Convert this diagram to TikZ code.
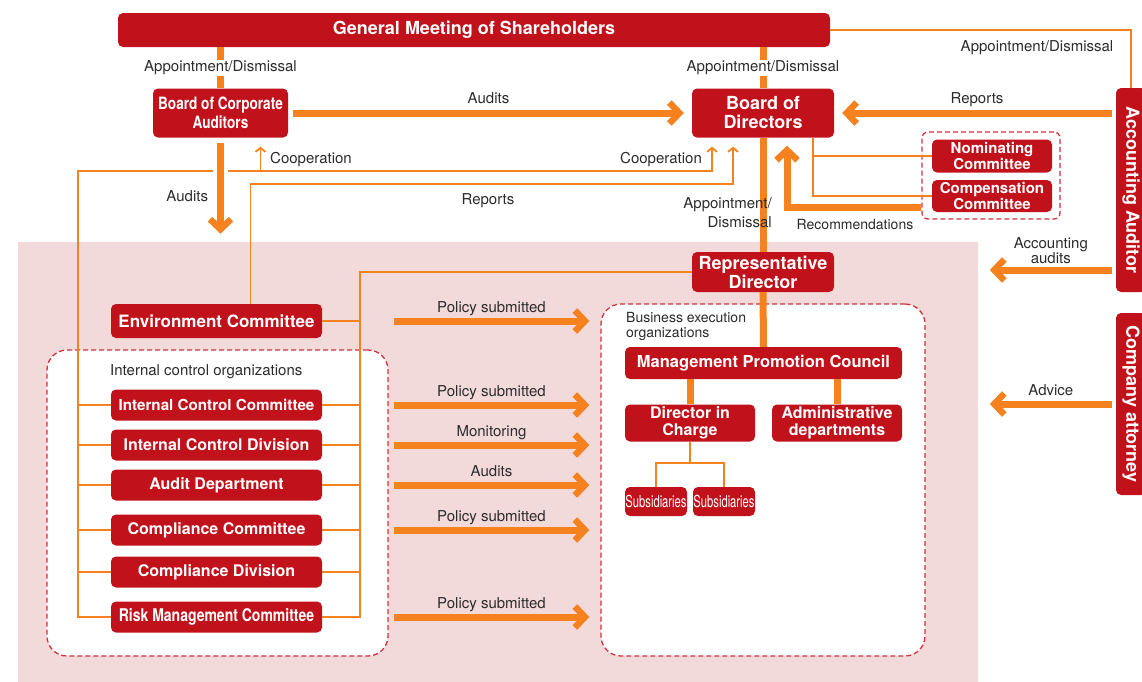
\documentclass[tikz,border=0pt]{standalone}
\usepackage{fontspec}
\setmainfont{TeX Gyre Heros}
\newfontfamily\narrowfont[FakeStretch=0.8]{TeX Gyre Heros}
\newfontfamily\slimfont[FakeStretch=0.68]{TeX Gyre Heros}
\usetikzlibrary{arrows.meta,calc}
\definecolor{boxred}{HTML}{C1121C}
\definecolor{flow}{HTML}{F5821F}
\definecolor{panel}{HTML}{F2DADB}
\definecolor{dashred}{HTML}{D6303C}
\definecolor{inkgray}{HTML}{2B2B2B}
\tikzset{
  orgbox/.style      = {rectangle, rounded corners=5pt, fill=boxred, text=white,
                        align=center, inner sep=0pt,
                        font=\bfseries\fontsize{16}{17}\selectfont},
  headbox/.style     = {orgbox, font=\bfseries\fontsize{18}{19}\selectfont},
  sidebox/.style     = {orgbox, rotate=-90, minimum height=30pt,
                        font=\bfseries\fontsize{18}{19}\selectfont},
  fatline/.style     = {draw=flow, line width=7pt},
  fatarrow/.style    = {fatline, -{Straight Barb[length=10pt,width=21pt,line width=6.5pt]}},
  thinline/.style    = {draw=flow, line width=1.8pt},
  thinarrow/.style   = {thinline, -{Straight Barb[length=4pt,width=10pt]}},
  lbl/.style         = {text=inkgray, inner sep=1pt,
                        font=\fontsize{15}{15}\selectfont},
  arrowlbl/.style    = {lbl, text height=11pt, text depth=3pt},
  groupframe/.style  = {draw=dashred, line width=1.3pt, dash pattern=on 5pt off 3pt,
                        rounded corners=20pt, fill=white},
}

\begin{document}
\begin{tikzpicture}[x=1pt, y=-1pt]
  \useasboundingbox (0,0) rectangle (1142,681);

  % ---- executive side shading and the two dashed groupings ----------------
  \fill[panel] (18,242) rectangle (978,690);
  \node[groupframe, minimum width=341pt, minimum height=306pt] (icframe) at (217.5,503) {};
  \node[groupframe, minimum width=324pt, minimum height=352pt] (bizframe) at (763,480) {};
  \node[groupframe, rounded corners=6pt, fill=none,
        minimum width=138pt, minimum height=87pt] (cmtframe) at (991,175.5) {};

  % ---- governance boxes ---------------------------------------------------
  \node[headbox, minimum width=712pt, minimum height=34pt] (gms) at (474,30) {General Meeting of Shareholders};
  \node[orgbox, minimum width=135pt, minimum height=49pt,
        font=\narrowfont\bfseries\fontsize{17}{19}\selectfont] (bca) at (220.5,113) {Board of Corporate\\Auditors};
  \node[headbox, minimum width=142pt, minimum height=49pt] (bod) at (763,113) {Board of\\Directors};
  \node[headbox, minimum width=142pt, minimum height=40pt] (rd) at (763,272) {Representative\\Director};
  \node[orgbox, minimum width=120pt, minimum height=33pt,
        font=\bfseries\fontsize{15}{13}\selectfont] (nom) at (992,156) {Nominating\\Committee};
  \node[orgbox, minimum width=120pt, minimum height=32pt,
        font=\bfseries\fontsize{15}{13}\selectfont] (comp) at (992,196) {Compensation\\Committee};
  \node[sidebox, minimum width=204pt] (aa) at (1131,190) {Accounting Auditor};
  \node[sidebox, minimum width=182pt] (ca) at (1131,404) {Company attorney};

  % ---- environment and internal control -----------------------------------
  \node[orgbox, minimum width=211pt, minimum height=34pt,
        font=\bfseries\fontsize{17}{18}\selectfont] (env) at (216.5,321) {Environment Committee};
  \node[lbl, anchor=west] (iclbl) at (109,372) {Internal control organizations};
  \node[orgbox, minimum width=211pt, minimum height=31pt,
        font=\bfseries\fontsize{15.2}{16}\selectfont] (icc) at (216.5,405) {Internal Control Committee};
  \foreach \name/\y/\txt in {icd/445/Internal Control Division,
                             aud/485/Audit Department,
                             cc/530/Compliance Committee,
                             cd/572/Compliance Division}
    \node[orgbox, minimum width=211pt, minimum height=31pt] (\name) at (216.5,\y) {\txt};
  \node[orgbox, minimum width=211pt, minimum height=31pt,
        font=\narrowfont\bfseries\fontsize{17.5}{18}\selectfont] (rmc) at (216.5,617) {Risk Management Committee};

  % ---- business execution -------------------------------------------------
  \node[lbl, anchor=north west, align=left, font=\fontsize{14}{15}\selectfont] (bizlbl)
        at (625,311) {Business execution\\organizations};
  \node[orgbox, minimum width=277pt, minimum height=32pt,
        font=\bfseries\fontsize{16.5}{17}\selectfont] (mpc) at (763.5,363) {Management Promotion Council};
  \node[orgbox, minimum width=130pt, minimum height=37pt,
        font=\bfseries\fontsize{16}{17.5}\selectfont] (dic) at (690,423) {Director in\\Charge};
  \node[orgbox, minimum width=130pt, minimum height=37pt,
        font=\bfseries\fontsize{16}{17.5}\selectfont] (adm) at (837,423) {Administrative\\departments};
  \node[orgbox, minimum width=62pt, minimum height=29pt,
        font=\slimfont\fontsize{16.5}{17}\selectfont] (sub1) at (656,501.5) {Subsidiaries};
  \node[orgbox, minimum width=62pt, minimum height=29pt,
        font=\slimfont\fontsize{16.5}{17}\selectfont] (sub2) at (724,501.5) {Subsidiaries};

  % ---- helper points for the thin links -----------------------------------
  \coordinate (westbus)   at (78,171);
  \coordinate (eastbus)   at (360,272);
  \coordinate (coopbca)   at ([shift={(40,9)}]bca.south);
  \coordinate (coopbod)   at ([shift={(-51,9)}]bod.south);
  \coordinate (reportbod) at ([shift={(-30,9)}]bod.south);
  \coordinate (recobod)   at ([shift={(24,8)}]bod.south);
  \coordinate (cmtlink)   at ([xshift=50pt]bod.south);
  \coordinate (aaout)     at ([xshift=-4pt]aa.south);
  \coordinate (polfrom)   at ([xshift=5pt]icframe.east);
  \coordinate (polto)     at ([xshift=-11pt]bizframe.west);

  % ---- cooperation and reports towards the boards -------------------------
  \draw[thinarrow] (rmc.west) -| (westbus) -| (coopbod);
  \draw[thinarrow] (coopbca |- westbus) -- (coopbca);
  \foreach \name in {icc,icd,aud,cc,cd}
    \draw[thinline] (\name.west) -- (westbus |- \name.west);
  \node[arrowlbl] (cooplbl1) at (311,159) {Cooperation};
  \node[arrowlbl] (cooplbl2) at (661,159) {Cooperation};

  \draw[thinarrow] ([xshift=34pt]env.north) -- ++(0,-120) -| (reportbod);
  \node[arrowlbl] (replbl) at (488,200) {Reports};

  % ---- representative director to the committees --------------------------
  \draw[thinline] (rd.west) -- (eastbus) |- (rmc.east);
  \foreach \name in {env,icc,icd,aud,cc,cd}
    \draw[thinline] (\name.east) -- (eastbus |- \name.east);

  \foreach \name/\txt in {env/Policy submitted, icc/Policy submitted,
                          icd/Monitoring, aud/Audits,
                          cc/Policy submitted, rmc/Policy submitted}
    \draw[fatarrow] (polfrom |- \name.east) -- (polto |- \name.east)
          node[midway, above=1pt, arrowlbl] {\txt};

  % ---- appointments and audits --------------------------------------------
  \draw[fatline] (gms.south -| bca.north) -- (bca.north)
        node[midway, arrowlbl, fill=white] {Appointment/Dismissal};
  \draw[fatline] (gms.south -| bod.north) -- (bod.north)
        node[midway, arrowlbl, fill=white] {Appointment/Dismissal};
  \draw[fatline] (bod.south) -- (rd.north);
  \node[lbl, anchor=east, align=right, font=\fontsize{15}{19}\selectfont] (apptlbl)
        at (773,213) {Appointment/\\Dismissal};

  \draw[fatarrow] ([xshift=5pt]bca.east) -- ([xshift=-8pt]bod.west)
        node[midway, above=2pt, arrowlbl] {Audits};
  \draw[fatarrow, preaction={draw=white, line width=15pt, -}]
        ([shift={(0,5)}]bca.south) -- ++(0,91)
        node[pos=0.6, left=8pt, arrowlbl] {Audits};

  % ---- nominating / compensation committees -------------------------------
  \draw[thinline] (cmtlink) |- (comp.west);
  \draw[thinline] (cmtlink |- nom.west) -- (nom.west);
  \draw[fatarrow] ([shift={(0,31.5)}]cmtframe.west) -| (recobod);
  \node[lbl, font=\fontsize{14}{14}\selectfont] (recolbl) at (855,224) {Recommendations};

  % ---- accounting auditor and company attorney ----------------------------
  \draw[thinline] (gms.east) -| (aa.west);
  \node[arrowlbl] (aalbl) at (1037,47) {Appointment/Dismissal};
  \draw[fatarrow] (aaout |- bod.east) -- ([xshift=8pt]bod.east)
        node[midway, above=2pt, arrowlbl] {Reports};
  \draw[fatarrow] ([shift={(0,80)}]aaout) -- ++(-122,0)
        node[midway, above=2pt, lbl, align=center] {Accounting\\audits};
  \draw[fatarrow] ([xshift=-4pt]ca.south) -- ++(-122,0)
        node[midway, above=1pt, arrowlbl] {Advice};

  % ---- execution chain ----------------------------------------------------
  \draw[fatline] (rd.south) -- (mpc.north);
  \draw[fatline] (mpc.south -| dic.north) -- (dic.north);
  \draw[fatline] (mpc.south -| adm.north) -- (adm.north);
  \draw[thinline] (dic.south) -- ++(0,21) coordinate (subfork);
  \draw[thinline] (sub1.north) |- (subfork) -| (sub2.north);
\end{tikzpicture}
\end{document}
